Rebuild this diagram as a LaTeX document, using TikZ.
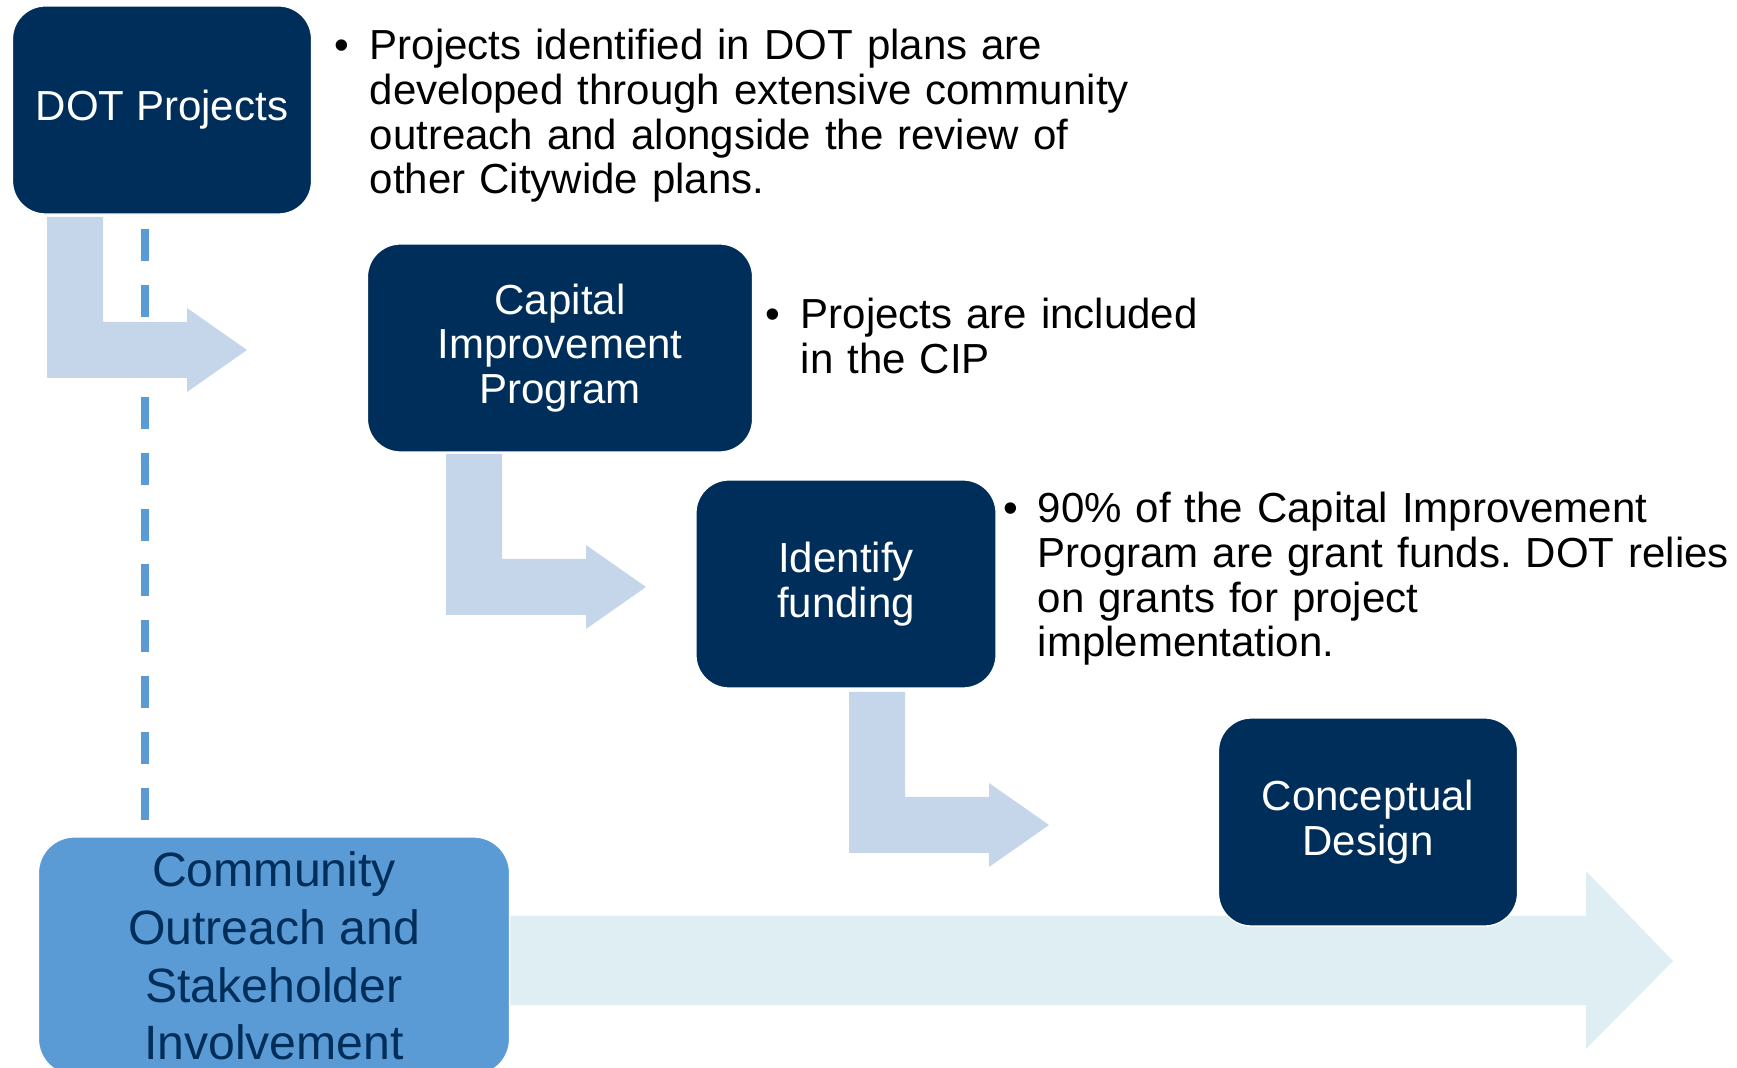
\documentclass[tikz,border=0pt]{standalone}
\usepackage{fontspec}
\setmainfont{Liberation Sans}
\usepackage{tikz}
\frenchspacing
\definecolor{navy}{HTML}{002E5A}
\definecolor{midblue}{HTML}{5B9BD5}
\definecolor{paleblue}{HTML}{C5D5EA}
\definecolor{mistblue}{HTML}{DEEEF2}
\newcommand{\notefont}{\fontsize{11.95pt}{12.7pt}\selectfont}
\tikzset{
  stage/.style={fill=navy, draw=white, rounded corners=0.33cm, text=white, align=center,
    inner sep=0pt, minimum width=2.99cm, minimum height=2.08cm, font=\notefont},
  note/.style={anchor=base west, text width=8cm, align=left, inner sep=0pt, font=\notefont},
  dashline/.style={midblue, line width=0.076cm, dash pattern=on 9.1pt off 6.8pt},
  bentarrow/.pic={
    \fill[paleblue] (0,0) -- (56,0) -- (56,105) -- (140,105) -- (140,91) -- (200,133)
      -- (140,175) -- (140,161) -- (0,161) -- cycle;
  }
}

\begin{document}
\begin{tikzpicture}[x=0.01cm, y=-0.01cm]
  \useasboundingbox (0,0) rectangle (1737,1068);
  \clip (0,0) rectangle (1737,1068);
  \fill[mistblue] (480,916) -- (1586,916) -- (1586,871) -- (1673,961) -- (1586,1049)
    -- (1586,1005) -- (480,1005) -- cycle;
  \coordinate (dashtop) at (145,229);
  \coordinate (dashend) at (145,821);
  \draw[dashline] (dashtop) -- (dashend);
  \pic at (47,217) {bentarrow};
  \pic at (446,454) {bentarrow};
  \pic at (849,692) {bentarrow};
  \node[stage] (dot) at (162,110) {DOT Projects};
  \node[stage, minimum width=3.85cm] (cip) at (560,348) {Capital\\Improvement\\Program};
  \node[stage, minimum width=3.0cm] (fund) at (846,584) {Identify\\funding};
  \node[stage] (design) at (1368,822) {Conceptual\\Design};
  \node[stage, fill=midblue, text=navy, minimum width=4.71cm, minimum height=2.38cm,
    rounded corners=0.36cm, font=\fontsize{13.7pt}{16.4pt}\selectfont]
    (outreach) at (274,956) {Community\\Outreach and\\Stakeholder\\Involvement};
  \node[note] (dotnote) at (369,60) {\llap{•\hspace{0.2cm}}Projects identified in DOT plans are\\
    developed through extensive community\\outreach and alongside the review of\\other Citywide plans.};
  \node[note] (cipnote) at (800,329) {\llap{•\hspace{0.2cm}}Projects are included\\in the CIP};
  \node[note] (fundnote) at (1037,523) {\llap{•\hspace{0.2cm}}90\% of the Capital Improvement\\
    Program are grant funds. DOT relies\\on grants for project\\implementation.};
\end{tikzpicture}
\end{document}
